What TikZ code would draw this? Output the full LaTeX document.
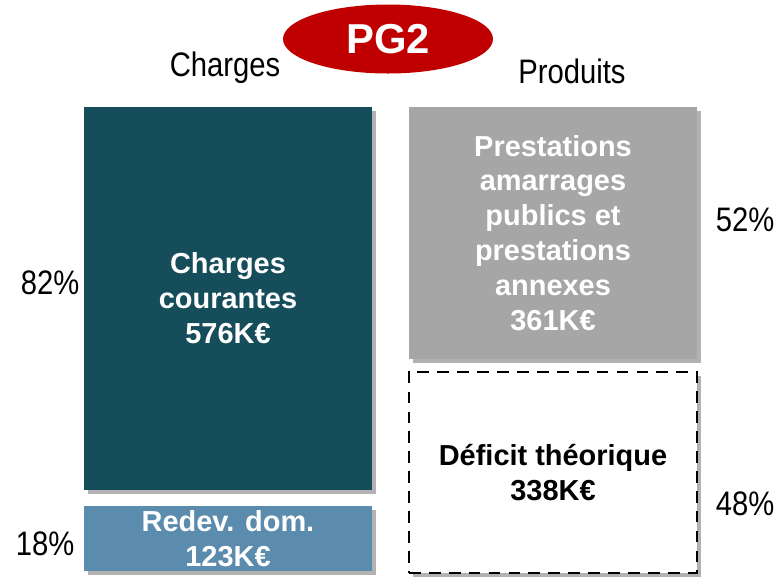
\documentclass[tikz,border=0pt]{standalone}
\usepackage{fontspec}
\setmainfont{Liberation Sans}
\newfontfamily\narrowsf{Liberation Sans}[FakeStretch=0.86]
\usetikzlibrary{shapes.geometric,shadows}
\definecolor{pgteal}{RGB}{22,77,90}
\definecolor{pgblue}{RGB}{91,139,173}
\definecolor{pggray}{RGB}{166,166,166}
\definecolor{pgred}{RGB}{192,0,0}
\tikzset{
	bloc/.style={rectangle, inner sep=0pt, minimum width=8.64cm, align=center, text=white,
		font=\bfseries\fontsize{24.7}{29.8}\selectfont,
		drop shadow={shadow xshift=3pt, shadow yshift=-3pt, opacity=.3, fill=black}},
	pct/.style={font=\narrowsf\fontsize{29}{32}\selectfont, anchor=base},
}
\begin{document}
\begin{tikzpicture}[x=0.03cm, y=-0.03cm]
	\useasboundingbox (0,0) rectangle (776,576);
	% titre
	\node[ellipse, fill=pgred, text=white, inner sep=0pt, minimum width=6.3cm, minimum height=2.07cm,
		font=\bfseries\fontsize{35.7}{40}\selectfont] (titre) at (388,39) {PG2};
	\node[pct] (charges) at (225,76) {Charges};
	\node[pct] (produits) at (572,83) {Produits};
	% colonne charges
	\node[bloc, fill=pgteal, minimum height=11.49cm] (courantes) at (228,298.5)
		{Charges\\courantes\\576K€};
	\node[bloc, fill=pgblue, minimum height=1.95cm] (redev) at (228,538.5)
		{Redev. dom.\\123K€};
	% colonne produits
	\node[bloc, fill=pggray, minimum height=7.56cm] (prestations) at (553,233)
		{Prestations\\amarrages\\publics et\\prestations\\annexes\\361K€};
	\node[bloc, fill=white, text=black, draw=black, line width=2.5pt, dash pattern=on 10pt off 7pt,
		minimum height=6.03cm] (deficit) at (553,472.5)
		{Déficit théorique\\338K€};
	% pourcentages
	\node[pct] (p82) at (50,294) {82\%};
	\node[pct] (p18) at (45,555) {18\%};
	\node[pct] (p52) at (745,231) {52\%};
	\node[pct] (p48) at (745,515) {48\%};
\end{tikzpicture}
\end{document}
